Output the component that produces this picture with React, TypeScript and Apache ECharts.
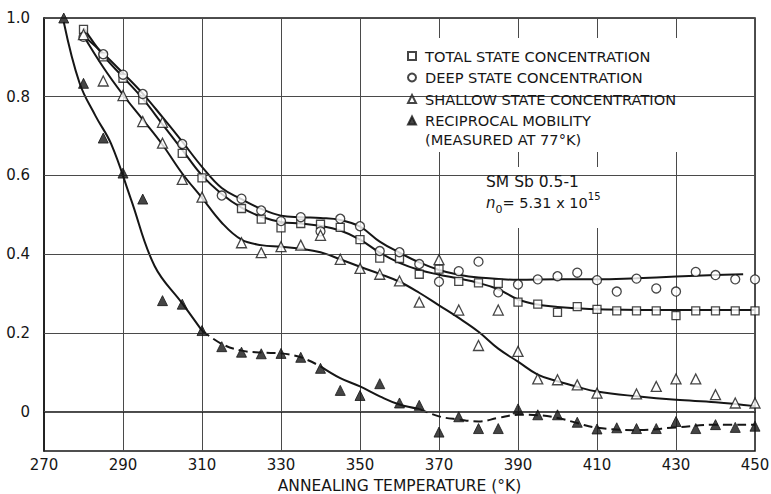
import React, { useEffect, useRef } from "react";
import * as echarts from "echarts";

// ---- data (temperature °K, normalized value) ----
const totalPts: [number, number][] = [
  [280, 0.971], [285, 0.901], [290, 0.847], [295, 0.792], [305, 0.656], [310, 0.594],
  [320, 0.516], [325, 0.489], [330, 0.467], [335, 0.478], [340, 0.476], [345, 0.468],
  [350, 0.437], [355, 0.39], [360, 0.389], [365, 0.349], [370, 0.362], [375, 0.331],
  [380, 0.327], [385, 0.326], [390, 0.278], [395, 0.273], [400, 0.252], [405, 0.267],
  [410, 0.26], [415, 0.256], [420, 0.256], [425, 0.256], [430, 0.244], [435, 0.256],
  [440, 0.256], [445, 0.256], [450, 0.256],
];
const deepPts: [number, number][] = [
  [280, 0.952], [285, 0.908], [290, 0.856], [295, 0.807], [305, 0.68], [315, 0.549],
  [320, 0.541], [325, 0.511], [330, 0.484], [335, 0.494], [340, 0.458], [345, 0.49],
  [350, 0.471], [355, 0.408], [360, 0.405], [365, 0.375], [370, 0.33], [375, 0.357],
  [380, 0.381], [385, 0.303], [390, 0.323], [395, 0.336], [400, 0.344], [405, 0.353],
  [410, 0.334], [415, 0.305], [420, 0.338], [425, 0.313], [430, 0.305], [435, 0.355],
  [440, 0.347], [445, 0.336], [450, 0.336],
];
const shallowPts: [number, number][] = [
  [280, 0.958], [285, 0.84], [290, 0.803], [295, 0.737], [300, 0.735], [300, 0.682],
  [305, 0.59], [310, 0.545], [320, 0.429], [325, 0.404], [330, 0.419], [335, 0.423],
  [340, 0.448], [345, 0.387], [350, 0.364], [355, 0.349], [360, 0.332], [365, 0.278],
  [370, 0.386], [375, 0.258], [380, 0.168], [385, 0.258], [390, 0.153], [395, 0.083],
  [400, 0.081], [405, 0.068], [410, 0.047], [420, 0.045], [425, 0.064], [430, 0.083],
  [435, 0.083], [440, 0.043], [445, 0.022], [450, 0.022],
];
const mobilityPts: [number, number][] = [
  [275, 1.0], [280, 0.834], [285, 0.695], [290, 0.606], [295, 0.54], [300, 0.282],
  [305, 0.273], [310, 0.206], [315, 0.165], [320, 0.151], [325, 0.147], [330, 0.148],
  [335, 0.138], [340, 0.11], [345, 0.054], [350, 0.041], [355, 0.071], [360, 0.022],
  [365, 0.016], [370, -0.052], [375, -0.013], [380, -0.043], [385, -0.043], [390, 0.007],
  [395, -0.008], [400, -0.008], [405, -0.027], [410, -0.044], [415, -0.041], [420, -0.043],
  [425, -0.043], [430, -0.025], [435, -0.043], [440, -0.033], [445, -0.04], [450, -0.037],
];

// ---- hand-drawn fit curves ----
const totalCurve: [number, number][] = [
  [280, 0.975], [285, 0.905], [290, 0.85], [295, 0.795], [300, 0.73], [305, 0.665],
  [310, 0.6], [315, 0.553], [320, 0.518], [325, 0.495], [330, 0.482], [335, 0.478],
  [340, 0.472], [345, 0.46], [350, 0.437], [355, 0.404], [360, 0.378], [365, 0.36],
  [370, 0.348], [375, 0.338], [380, 0.327], [385, 0.311], [390, 0.285], [395, 0.272],
  [400, 0.266], [410, 0.26], [430, 0.258], [450, 0.258],
];
const deepCurve: [number, number][] = [
  [280, 0.955], [285, 0.91], [290, 0.86], [295, 0.808], [300, 0.748], [305, 0.686],
  [310, 0.622], [315, 0.568], [320, 0.54], [325, 0.515], [330, 0.498], [335, 0.494],
  [340, 0.492], [345, 0.487], [350, 0.47], [355, 0.432], [360, 0.404], [365, 0.379],
  [370, 0.36], [375, 0.348], [380, 0.341], [390, 0.335], [400, 0.336], [410, 0.336],
  [420, 0.339], [430, 0.343], [440, 0.347], [447, 0.349],
];
const shallowCurve: [number, number][] = [
  [280, 0.955], [285, 0.875], [290, 0.805], [295, 0.742], [300, 0.678], [305, 0.605],
  [310, 0.543], [315, 0.48], [320, 0.437], [325, 0.423], [330, 0.419], [335, 0.414],
  [340, 0.405], [345, 0.387], [350, 0.368], [355, 0.35], [360, 0.33], [365, 0.302],
  [370, 0.27], [375, 0.238], [380, 0.203], [385, 0.16], [390, 0.127], [395, 0.094],
  [400, 0.077], [405, 0.063], [410, 0.051], [420, 0.039], [430, 0.03], [440, 0.024],
  [450, 0.014],
];
const mobilityCurveA: [number, number][] = [
  [275, 0.99], [279, 0.835], [283, 0.752], [287, 0.68], [292, 0.54], [298, 0.37],
  [305, 0.275], [310, 0.206],
];
const mobilityCurveB: [number, number][] = [
  [310, 0.206], [315, 0.172], [320, 0.155], [325, 0.15], [330, 0.148], [335, 0.138], [340, 0.115],
];
const mobilityCurveC: [number, number][] = [
  [340, 0.115], [345, 0.085], [350, 0.064], [355, 0.039], [360, 0.018], [365, 0.007],
];
const mobilityCurveD: [number, number][] = [
  [365, 0.007], [370, -0.012], [375, -0.02], [380, -0.025], [385, -0.016], [390, -0.008],
  [395, -0.009], [400, -0.016], [405, -0.029], [410, -0.041], [420, -0.047], [430, -0.04],
  [440, -0.033], [450, -0.033],
];

const yGridValues = [0, 0.2, 0.4, 0.6, 0.8, 1.0];
const names = {
  total: "TOTAL STATE CONCENTRATION",
  deep: "DEEP STATE CONCENTRATION",
  shallow: "SHALLOW STATE CONCENTRATION",
  mobility: "RECIPROCAL MOBILITY",
};

const FONT = "DejaVu Sans";
const INK = "#161616";

export default function App() {
  const ref = useRef<HTMLDivElement>(null);
  useEffect(() => {
    if (!ref.current) return;
    const chart = echarts.init(ref.current, null, { renderer: "svg" });
    const openItem = { color: "#fff", borderColor: INK, borderWidth: 1.3 };
    const fit = (name: string, data: [number, number][], dashed = false) => ({
      name,
      type: "line",
      data,
      smooth: 0.4,
      symbol: "none",
      silent: true,
      z: 3,
      lineStyle: { color: INK, width: 2, type: dashed ? [9, 5] : "solid" },
    });
    chart.setOption({
      animation: false,
      backgroundColor: "#fff",
      textStyle: { fontFamily: FONT },
      grid: {
        left: 44, right: 16, top: 18, bottom: 43, show: true, borderColor: INK, borderWidth: 1.5,
        containLabel: false, outerBoundsMode: "none",
      },
      xAxis: {
        type: "value",
        min: 270,
        max: 450,
        interval: 20,
        name: "ANNEALING TEMPERATURE (°K)",
        nameLocation: "middle",
        nameGap: 27,
        nameTextStyle: { fontFamily: FONT, fontSize: 15.5, color: INK },
        axisLine: { show: true, lineStyle: { color: INK, width: 1.5 } },
        axisTick: { show: false },
        axisLabel: { fontFamily: FONT, fontSize: 15, color: INK, margin: 6 },
        splitLine: { show: true, lineStyle: { color: "#4a4a4a", width: 1 } },
      },
      yAxis: {
        type: "value",
        min: -0.1,
        max: 1.0,
        interval: 0.1,
        axisLine: { show: true, lineStyle: { color: INK, width: 1.5 } },
        axisTick: { show: false },
        splitLine: { show: false },
        axisLabel: {
          fontFamily: FONT,
          fontSize: 15,
          color: INK,
          margin: 14,
          formatter: (v: number) => {
            const k = Math.round(v * 10);
            if (k < 0 || k % 2 !== 0) return "";
            return k === 0 ? "0" : (k / 10).toFixed(1);
          },
        },
      },
      legend: {
        orient: "vertical",
        left: 407,
        top: 48,
        padding: 0,
        itemGap: 5.5,
        itemWidth: 8,
        itemHeight: 8,
        selectedMode: false,
        textStyle: { fontFamily: FONT, fontSize: 14.6, color: INK, lineHeight: 16, padding: [0, 0, 0, 4] },
        data: [
          { name: names.total, icon: "rect" },
          { name: names.deep, icon: "circle" },
          { name: names.shallow, icon: "triangle" },
          { name: names.mobility, icon: "triangle" },
        ],
        z: 6,
      },
      graphic: [
        { type: "rect", z: 4, shape: { x: 397, y: 38, width: 302, height: 114 }, style: { fill: "#fff" } },
        { type: "rect", z: 4, shape: { x: 468, y: 167, width: 155, height: 61 }, style: { fill: "#fff" } },
        {
          type: "text", z: 6, x: 425, y: 139,
          style: { text: "(MEASURED AT 77°K)", font: `14.6px '${FONT}'`, fill: INK, verticalAlign: "middle" },
        },
        {
          type: "text", z: 6, x: 486, y: 182,
          style: { text: "SM Sb 0.5-1", font: `15.5px '${FONT}'`, fill: INK, verticalAlign: "middle" },
        },
        {
          type: "text", z: 6, x: 486, y: 203,
          style: {
            text: "{i|n}{sub|0}{t|= 5.31 x 10}{sup|15}",
            verticalAlign: "middle",
            fill: INK,
            rich: {
              i: { fontFamily: FONT, fontSize: 15, fontStyle: "italic", lineHeight: 24, verticalAlign: "middle", fill: INK },
              sub: { fontFamily: FONT, fontSize: 11, lineHeight: 24, verticalAlign: "bottom", fill: INK },
              t: { fontFamily: FONT, fontSize: 14.5, lineHeight: 24, verticalAlign: "middle", fill: INK },
              sup: { fontFamily: FONT, fontSize: 10, lineHeight: 24, verticalAlign: "top", fill: INK },
            },
          },
        },
      ],
      series: [
        {
          name: "_grid",
          type: "line",
          data: [],
          z: 1,
          silent: true,
          markLine: {
            silent: true,
            symbol: "none",
            label: { show: false },
            lineStyle: { color: "#4a4a4a", width: 1, type: "solid" },
            data: yGridValues.map((v) => ({ yAxis: v })),
          },
        },
        fit("fit-total", totalCurve),
        fit("fit-deep", deepCurve),
        fit("fit-shallow", shallowCurve),
        fit("fit-mob-a", mobilityCurveA),
        fit("fit-mob-b", mobilityCurveB, true),
        fit("fit-mob-c", mobilityCurveC),
        fit("fit-mob-d", mobilityCurveD, true),
        { name: names.total, type: "scatter", data: totalPts, symbol: "rect", symbolSize: 8, itemStyle: openItem, z: 5 },
        { name: names.deep, type: "scatter", data: deepPts, symbol: "circle", symbolSize: 9, itemStyle: openItem, z: 5 },
        { name: names.shallow, type: "scatter", data: shallowPts, symbol: "triangle", symbolSize: 10, itemStyle: openItem, z: 5 },
        {
          name: names.mobility, type: "scatter", data: mobilityPts, symbol: "triangle", symbolSize: 10,
          itemStyle: { color: INK, borderColor: INK, borderWidth: 1 }, z: 5,
        },
      ],
    });
    return () => chart.dispose();
  }, []);
  return <div ref={ref} style={{ position: "fixed", left: 0, top: 0, width: 771, height: 494, background: "#fff" }} />;
}
